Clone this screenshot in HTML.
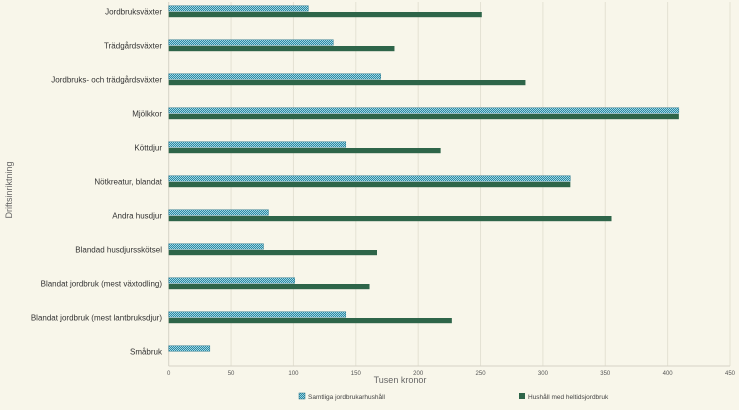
<!DOCTYPE html>
<html><head><meta charset="utf-8"><style>
body{margin:0;background:#f8f6ea;}
svg{display:block;font-family:"Liberation Sans",sans-serif;}
</style></head><body>
<svg id="c" width="739" height="410">
<defs>
<pattern id="chk" width="2" height="2" patternUnits="userSpaceOnUse">
<rect width="2" height="2" fill="#2a8aa6"/><rect width="1" height="1" fill="#9fd3df"/><rect x="1" y="1" width="1" height="1" fill="#9fd3df"/>
</pattern>
</defs>
<rect width="739" height="410" fill="#f8f6ea"/>
<g id="grid"></g><g id="bars"></g><g id="labels"></g>
<text x="400" y="383" font-size="9" fill="#666" text-anchor="middle">Tusen kronor</text>
<text transform="translate(12,190) rotate(-90)" font-size="9" fill="#666" text-anchor="middle">Driftsinriktning</text>
<g><rect x="299" y="393" width="6" height="6" fill="url(#chk)" stroke="#1d6f86" stroke-width="0.5"/><text x="308" y="399" font-size="6.5" fill="#444">Samtliga jordbrukarhushåll</text></g>
<g><rect x="519" y="393" width="6" height="6" fill="#2e6549"/><text x="528" y="399" font-size="6.5" fill="#444">Hushåll med heltidsjordbruk</text></g>
</svg>
<script>
const categories=["Jordbruksväxter","Trädgårdsväxter","Jordbruks- och trädgårdsväxter","Mjölkkor","Köttdjur","Nötkreatur, blandat","Andra husdjur","Blandad husdjursskötsel","Blandat jordbruk (mest växtodling)","Blandat jordbruk (mest lantbruksdjur)","Småbruk"];
const samtliga=[112,132,170,409,142,322,80,76,101,142,33];
const heltid=[251,181,286,409,218,322,355,167,161,227,0];
const ticks=[0,50,100,150,200,250,300,350,400,450];
const NS="http://www.w3.org/2000/svg";
const x0=168.7,x1=730,top0=-5.3,pitch=34,axisY=366;
const xs=v=>x0+v/450*(x1-x0);
const cy=i=>top0+(i+0.5)*pitch;
function mk(t,a,p){const e=document.createElementNS(NS,t);for(const k in a)e.setAttribute(k,a[k]);document.getElementById(p).appendChild(e);return e;}
ticks.forEach(t=>{
 const g=mk('line',{x1:xs(t),x2:xs(t),y1:2,y2:axisY,stroke:t?'#e4e1d3':'#d6d3c6','stroke-width':1},'grid');
 
 
 const l=mk('text',{x:xs(t),y:axisY+9,'font-size':6,fill:'#555','text-anchor':'middle'},'labels');
 l.textContent=t;
 
 
});
mk('line',{x1:x0,x2:x1,y1:axisY,y2:axisY,stroke:'#d6d3c6'},'grid');
categories.forEach((c,i)=>{
 const y=cy(i);
 const l=mk('text',{x:162,y:y+3,'font-size':8,fill:'#333','text-anchor':'end'},'labels');
 l.textContent=c;
 
 
 if(samtliga[i]>0){const b=mk('rect',{x:x0,y:y-6,width:xs(samtliga[i])-x0,height:5.6,fill:'url(#chk)',stroke:'#1d6f86','stroke-width':0.4},'bars');
 
 }
 if(heltid[i]>0){const b=mk('rect',{x:x0,y:y+0.3,width:xs(heltid[i])-x0,height:5.2,fill:'#2e6549'},'bars');
 
 }
});
</script>
</body></html>
